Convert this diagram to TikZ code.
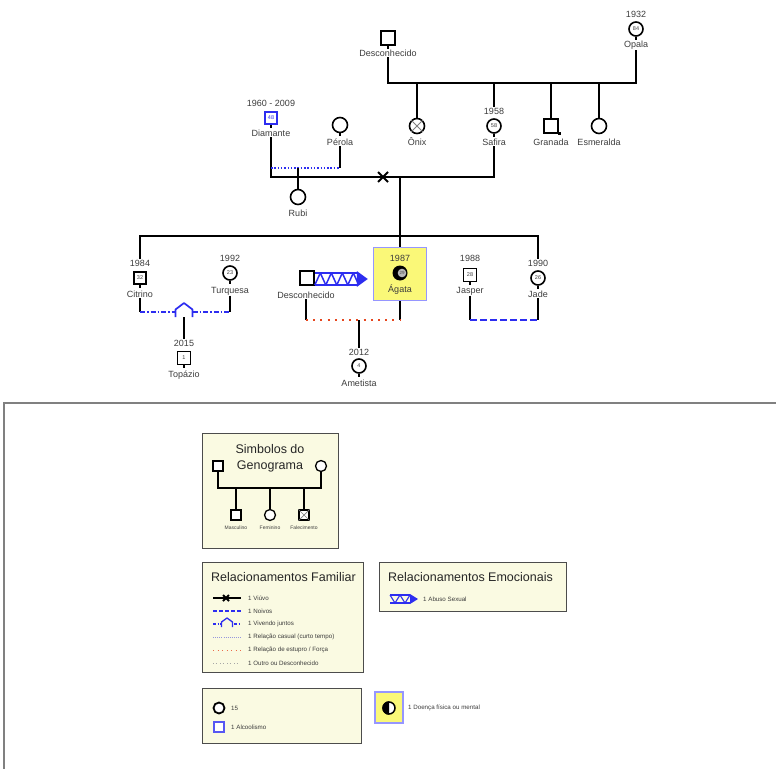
\documentclass[tikz,border=0pt]{standalone}
\usepackage{fontspec}
\setmainfont{Liberation Sans}
\usetikzlibrary{calc}
\definecolor{gblue}{RGB}{45,45,240}
\definecolor{agborder}{RGB}{150,150,255}
\definecolor{agyellow}{RGB}{250,248,120}
\definecolor{legfill}{RGB}{250,250,226}
\definecolor{rapecol}{RGB}{230,70,30}
\definecolor{txt}{RGB}{60,60,60}
\definecolor{casualcol}{RGB}{150,150,220}
\tikzset{
  kin/.style={line width=1.7pt, black},
  tick/.style={line width=1.2pt, black},
  msym/.style={draw, line width=1.6pt, rectangle, minimum size=13pt, inner sep=0pt, fill=white, text=txt, font=\fontsize{5.5}{5.5}\selectfont},
  fsym/.style={draw, line width=1.6pt, circle, minimum size=14pt, inner sep=0pt, fill=white, text=txt, font=\fontsize{5.5}{5.5}\selectfont},
  lbl/.style={font=\fontsize{9}{10}\selectfont, text=txt, inner sep=0.5pt},
  yr/.style={font=\fontsize{9}{10}\selectfont, text=txt, inner sep=0.5pt},
  casual/.style={gblue, line width=1.8pt, dash pattern=on 1.5pt off 1.8pt},
  living/.style={gblue, line width=1.6pt, dash pattern=on 5pt off 2pt on 1.5pt off 2pt},
  noivos/.style={gblue, line width=1.8pt, dash pattern=on 7pt off 3pt},
  rape/.style={rapecol, line width=2pt, dash pattern=on 2pt off 5.2pt},
  legbox/.style={draw=black!70, line width=1pt, fill=legfill},
  legtitle/.style={font=\fontsize{12.5}{16}\selectfont, text=black!85, inner sep=0pt, align=center},
  legtxt/.style={font=\fontsize{6.2}{7}\selectfont, text=txt, inner sep=0pt, anchor=west},
  legsmall/.style={font=\fontsize{5}{6}\selectfont, text=txt, inner sep=0pt},
  lm/.style={draw, line width=1.3pt, rectangle, minimum size=10pt, inner sep=0pt, fill=white},
  lf/.style={draw, line width=1.3pt, circle, minimum size=11pt, inner sep=0pt, fill=white},
}
\begin{document}
\begin{tikzpicture}[x=1pt,y=-1pt]
\useasboundingbox (0,0) rectangle (776,768);

% ---------------- top generation ----------------
\node[msym, minimum size=14pt] (desc1) at (388,38) {};
\draw[tick] (desc1.south) -- ++(0,3);
\node[lbl] (desc1l) at (388,53) {Desconhecido};
\node[yr] (opalay) at (636,14) {1932};
\node[fsym] (opala) at (636,29) {84};
\draw[tick] (opala.south) -- ++(0,3);
\node[lbl] (opalal) at (636,45) {Opala};
\coordinate (s1) at (0,83);
\draw[kin] (desc1l.south) -- (desc1l.south |- s1) -- (s1 -| opalal.south) -- (opalal.south);

\node[fsym, minimum size=15pt] (onix) at (417,126) {};
\draw[gray, line width=0.8pt] (onix.45) -- (onix.225) (onix.135) -- (onix.315);
\node[lbl] (onixl) at (417,142) {Ônix};
\draw[kin] (onix.north) -- (onix.north |- s1);

\node[yr] (safiray) at (494,111) {1958};
\node[fsym] (safira) at (494,126) {58};
\draw[tick] (safira.south) -- ++(0,3);
\node[lbl] (safiral) at (494,142) {Safira};
\draw[kin] (safiray.north) -- (safiray.north |- s1);

\node[msym, minimum size=14pt] (granada) at (551,126) {};
\fill (557.5,131.5) rectangle (560.5,134.5);
\node[lbl] (granadal) at (551,142) {Granada};
\draw[kin] (granada.north) -- (granada.north |- s1);

\node[fsym, minimum size=15pt] (esme) at (599,126) {};
\node[lbl] (esmel) at (599,142) {Esmeralda};
\draw[kin] (esme.north) -- (esme.north |- s1);

% ---------------- middle generation ----------------
\node[yr] (diamy) at (271,103) {1960 - 2009};
\node[msym, draw=gblue, text=gblue, minimum size=12pt] (diam) at (271,118) {48};
\draw[tick] (diam.south) -- ++(0,3);
\node[lbl] (diaml) at (271,133) {Diamante};
\node[fsym, minimum size=15pt] (perola) at (340,125) {};
\draw[tick] (perola.south) -- ++(0,3);
\node[lbl] (perolal) at (340,142) {Pérola};
\coordinate (c1) at (0,168);
\coordinate (m1) at (0,177);
\draw[kin] (diaml.south) -- (diaml.south |- m1) -- (m1 -| safiral.south) -- (safiral.south);
\draw[kin] (perolal.south) -- (perolal.south |- c1);
\draw[casual] (diaml.south |- c1) -- (perolal.south |- c1);
\node[fsym, minimum size=15pt] (rubi) at (298,197) {};
\node[lbl] (rubil) at (298,213) {Rubi};
\draw[kin] (rubi.north) -- (rubi.north |- c1);
\coordinate (widow) at (383,177);
\draw[line width=2pt] ($(widow)+(-5,-5)$) -- ($(widow)+(5,5)$) ($(widow)+(-5,5)$) -- ($(widow)+(5,-5)$);

% ---------------- bottom generation ----------------
\coordinate (s2) at (0,236);
\node[yr] (city) at (140,263) {1984};
\node[msym, minimum size=12pt] (cit) at (140,278) {32};
\draw[tick] (cit.south) -- ++(0,3);
\node[lbl] (citl) at (140,294) {Citrino};
\node[yr] (turqy) at (230,258) {1992};
\node[fsym] (turq) at (230,273) {23};
\draw[tick] (turq.south) -- ++(0,3);
\node[lbl] (turql) at (230,291) {Turquesa};
\coordinate (v1) at (0,312);
\draw[kin] (citl.south) -- (citl.south |- v1);
\draw[kin] (turql.south) -- (turql.south |- v1);
\draw[living] (citl.south |- v1) -- (turql.south |- v1);
\coordinate (house) at (184,311);
\draw[gblue, line width=1.7pt, fill=white, line join=round] ($(house)+(-8.5,6)$) -- ($(house)+(-8.5,-1.5)$) -- ($(house)+(0,-8)$) -- ($(house)+(8.5,-1.5)$) -- ($(house)+(8.5,6)$);
\coordinate (houseb) at (184,317);
\node[yr] (topy) at (184,343) {2015};
\node[msym] (topaz) at (184,358) {1};
\draw[tick] (topaz.south) -- ++(0,3);
\node[lbl] (topl) at (184,375) {Topázio};
\draw[kin] (houseb) -- (topy.north);

\node[msym, minimum size=14pt] (desc2) at (307,278) {};
\node[lbl] (desc2l) at (306,295) {Desconhecido};
\node[draw=agborder, fill=agyellow, line width=1.5pt, minimum width=53pt, minimum height=53pt, inner sep=0pt] (agbox) at (400,274) {};
\node[yr] (agy) at (400,258) {1987};
\node[circle, fill=black, minimum size=15pt, inner sep=0pt] (ag) at (400,273) {};
\fill[gray!55] (402,273) circle (4.3pt);
\node[font=\fontsize{4.5}{5}\selectfont, text=black!70, inner sep=0pt] at (402,273) {29};
\node[lbl] (agl) at (400,290) {Ágata};
\coordinate (r1) at (0,320);
\draw[kin] (desc2l.south) -- (desc2l.south |- r1);
\draw[kin] (agbox.south) -- (agbox.south |- r1);
\draw[rape] (desc2l.south |- r1) -- (agbox.south |- r1);
\draw[kin] (m1 -| agbox.north) -- (agbox.north);

% abuse arrow desc2 -> agata
\coordinate (ab0) at ($(desc2.east)+(0,1)$);
\coordinate (ab1) at ($(agbox.west)+(-16,5)$);
\draw[gblue, line width=1.5pt] ($(ab0)+(0,-6)$) -- ($(ab1 |- ab0)+(0,-6)$) ($(ab0)+(0,6)$) -- ($(ab1 |- ab0)+(0,6)$);
\foreach \i in {0,1,2,3}{
  \draw[gblue, line width=1.5pt, line join=round] ($(ab0)+(11*\i,6)$) -- ($(ab0)+(11*\i+5.5,-6)$) -- ($(ab0)+(11*\i+11,6)$);
}
\fill[gblue] ($(ab1 |- ab0)+(0,-8)$) -- ($(ab1 |- ab0)+(11,0)$) -- ($(ab1 |- ab0)+(0,8)$) -- cycle;

\coordinate (amc) at (359,320);
\node[yr] (amety) at (359,352) {2012};
\node[fsym] (amet) at (359,366) {4};
\draw[tick] (amet.south) -- ++(0,3);
\node[lbl] (ametl) at (359,383) {Ametista};
\draw[kin] (amc) -- (amety.north);

\node[yr] (jasy) at (470,258) {1988};
\node[msym] (jas) at (470,275) {28};
\draw[tick] (jas.south) -- ++(0,3);
\node[lbl] (jasl) at (470,291) {Jasper};
\node[yr] (jadey) at (538,263) {1990};
\node[fsym] (jade) at (538,278) {26};
\draw[tick] (jade.south) -- ++(0,3);
\node[lbl] (jadel) at (538,294) {Jade};
\draw[kin] (jasl.south) -- (jasl.south |- r1);
\draw[kin] (jadel.south) -- (jadel.south |- r1);
\draw[noivos] (jasl.south |- r1) -- (jadel.south |- r1);

\draw[kin] (city.north) -- (city.north |- s2) -- (s2 -| jadey.north) -- (jadey.north);

% ---------------- legend frame ----------------
\draw[gray, line width=1.5pt] (4,772) -- (4,403) -- (780,403);

% box 1
\node[legbox, minimum width=136pt, minimum height=115pt, anchor=north west, inner sep=0pt] (lb1) at (202,433) {};
\node[legtitle] (lb1t) at (270,458) {Simbolos do\\Genograma};
\node[lm] (lbm) at (218,466) {};
\node[lf] (lbf) at (321,466) {};
\coordinate (lh) at (0,488);
\draw[line width=1.3pt] (lbm.south) -- (lbm.south |- lh) -- (lh -| lbf.south) -- (lbf.south);
\node[lm] (lc1) at (236,515) {};
\node[lf] (lc2) at (270,515) {};
\node[lm] (lc3) at (304,515) {};
\draw[gray, line width=0.7pt] (lc3.north west) -- (lc3.south east) (lc3.south west) -- (lc3.north east);
\foreach \n in {lc1,lc2,lc3} \draw[line width=1.3pt] (\n.north) -- (\n.north |- lh);
\node[legsmall] at (236,528) {Masculino};
\node[legsmall] at (270,528) {Feminino};
\node[legsmall] at (304,528) {Falecimento};

% box 2
\node[legbox, minimum width=161pt, minimum height=110pt, anchor=north west, inner sep=0pt] (lb2) at (202,562) {};
\node[legtitle, anchor=west] (lb2t) at (211,577) {Relacionamentos Familiar};
\draw[line width=1.3pt] (213,598) -- (241,598);
\draw[line width=1.8pt] (223,595) -- (229,601) (223,601) -- (229,595);
\node[legtxt] at (248,598) {1 Viúvo};
\draw[gblue, line width=1.4pt, dash pattern=on 4pt off 2pt] (213,611) -- (241,611);
\node[legtxt] at (248,611) {1 Noivos};
\draw[gblue, line width=1.2pt, dash pattern=on 3pt off 1.5pt on 1pt off 1.5pt] (213,624) -- (241,624);
\draw[gblue, line width=1.3pt, fill=legfill, line join=round] (221.5,627) -- (221.5,622) -- (227,618) -- (232.5,622) -- (232.5,627);
\node[legtxt] at (248,624) {1 Vivendo juntos};
\draw[casualcol, line width=0.9pt, dash pattern=on 0.8pt off 1.3pt] (213,637) -- (241,637);
\node[legtxt] at (248,637) {1 Relação casual (curto tempo)};
\draw[rapecol!80, line width=1pt, dash pattern=on 1pt off 3.5pt] (213,650) -- (241,650);
\node[legtxt] at (248,650) {1 Relação de estupro / Força};
\draw[gray!70, line width=0.9pt, dash pattern=on 1pt off 1.5pt on 1pt off 3.5pt] (213,663) -- (241,663);
\node[legtxt] at (248,663) {1 Outro ou Desconhecido};

% box 3
\node[legbox, minimum width=187pt, minimum height=49pt, anchor=north west, inner sep=0pt] (lb3) at (379,562) {};
\node[legtitle, anchor=west] (lb3t) at (388,577) {Relacionamentos Emocionais};
\coordinate (e0) at (390,599);
\draw[gblue, line width=1.1pt] ($(e0)+(0,-4)$) -- ($(e0)+(20,-4)$) ($(e0)+(0,4)$) -- ($(e0)+(20,4)$);
\foreach \i in {0,1}{
  \draw[gblue, line width=1.1pt] ($(e0)+(10*\i,-4)$) -- ($(e0)+(10*\i+5,4)$) -- ($(e0)+(10*\i+10,-4)$);
}
\fill[gblue] ($(e0)+(20,-5)$) -- ($(e0)+(28,0)$) -- ($(e0)+(20,5)$) -- cycle;
\node[legtxt] at (423,599) {1 Abuso Sexual};

% box 4
\node[legbox, minimum width=159pt, minimum height=55pt, anchor=north west, inner sep=0pt] (lb4) at (202,688) {};
\node[lf, line width=1.8pt] (l15) at (219,708) {};
\node[legtxt] at (231,708) {15};
\node[lm, draw=gblue!80!white, line width=1.6pt] (lalc) at (219,727) {};
\node[legtxt] at (231,727) {1 Alcoolismo};

% box 5
\node[draw=agborder, fill=agyellow, line width=1.3pt, minimum width=28pt, minimum height=31pt, inner sep=0pt] (lb5) at (389,707.5) {};
\draw[line width=1.5pt, fill=white] (389,708) circle (6pt);
\begin{scope}
\clip (380,698) rectangle (389,718);
\fill[black] (389,708) circle (6.7pt);
\end{scope}
\node[legtxt] at (408,708) {1 Doença física ou mental};
\end{tikzpicture}
\end{document}
